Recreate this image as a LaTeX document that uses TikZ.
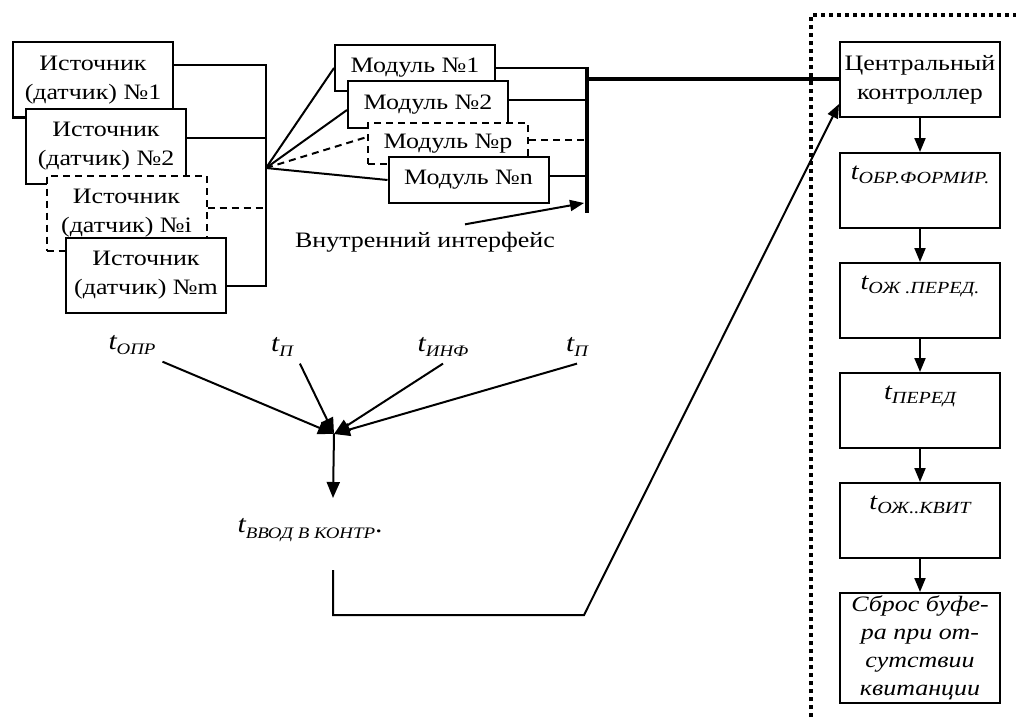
\documentclass[tikz,border=0pt]{standalone}
\usepackage{fontspec}
\setmainfont{Liberation Serif}[FakeStretch=1.18]
\usetikzlibrary{positioning,arrows.meta,calc}

\newcommand{\tlab}[2][8.5]{\textit{t\raisebox{-0.45ex}{\fontsize{#1}{#1}\selectfont #2}}}

\begin{document}
\begin{tikzpicture}[
    x=0.5pt, y=-0.5pt,
    font=\fontsize{11}{14.5}\selectfont,
    line width=1pt,
    box/.style={rectangle, draw, fill=white, minimum width=80pt, inner sep=0pt, align=center},
    src/.style={box, minimum height=37.5pt},
    mod/.style={box, minimum height=23pt},
    tbox/.style={box, text height=9pt, text depth=20.5pt, inner ysep=4pt, font=\fontsize{12}{14.5}\selectfont},
    dashln/.style={dash pattern=on 3.5pt off 2.5pt},
    arr/.style={-{Triangle[length=7pt,width=5.5pt]}},
    bigarr/.style={-{Triangle[length=8pt,width=6.5pt]}},
    lab/.style={inner sep=3pt, font=\fontsize{12.5}{15}\selectfont}
]
    \useasboundingbox (0,0) rectangle (1016,717);

    % Sources
    \node[src] (src1) at (93,80) {Источник\\(датчик) №1};
    \node[src] (src2) at (106,146.5) {Источник\\(датчик) №2};
    \node[src, dashln] (srci) at (126.5,213) {Источник\\(датчик) №i};
    \node[src] (srcm) at (146,275.5) {Источник\\(датчик) №m};

    % Modules
    \node[mod] (mod1) at (415,68) {Модуль №1};
    \node[mod] (mod2) at (428,104.5) {Модуль №2};
    \node[mod, dashln, minimum height=20.5pt] (modp) at (448,143.5) {Модуль №p};
    \node[mod] (modn) at (468.5,180) {Модуль №n};

    % Source bus
    \coordinate (sb1) at (266,65);
    \coordinate (sb2) at (266,138);
    \coordinate (sbi) at (266,208);
    \coordinate (sbm) at (266,286);
    \coordinate (fan) at (266,168);
    \draw (src1.east |- sb1) -- (sb1) -- (sbm) -- (srcm.east |- sbm);
    \draw (src2.east |- sb2) -- (sb2);
    \draw[dashln] (srci.east |- sbi) -- (sbi);

    % Fan to modules
    \draw (fan) -- (mod1.west);
    \draw (fan) -- ([yshift=-2.75pt]mod2.west);
    \draw[dashln] (fan) -- ([yshift=3.25pt]modp.west);
    \draw (fan) -- (modn.west);

    % Internal interface
    \coordinate (ib1) at (587,67);
    \coordinate (ib2) at (587,213);
    \coordinate (ibarr) at (584,203);
    \draw[line width=2pt] (ib1) -- (ib2);
    \draw (mod1.east) -- (mod1.east -| ib1);
    \draw ([yshift=2pt]mod2.east) -- ([yshift=2pt]mod2.east -| ib1);
    \draw[dashln] ([yshift=1.75pt]modp.east) -- ([yshift=1.75pt]modp.east -| ib1);
    \draw ([yshift=2pt]modn.east) -- ([yshift=2pt]modn.east -| ib1);
    \node (iface) at (425,242) {Внутренний интерфейс};
    \draw[arr] ([xshift=20pt]iface.north) -- (ibarr);

    % Controller side
    \draw[line width=1.75pt, dash pattern=on 2pt off 2pt] (811,717) -- (811,15) -- (1016,15);
    \node[src] (ctrl) at (920,79.5) {Центральный\\контроллер};
    \draw[line width=2pt] (ctrl.west -| ib1) -- (ctrl.west);
    \node[tbox, below=17pt of ctrl] (tobr) {\tlab{ОБР.ФОРМИР.}};
    \node[tbox, below=16.5pt of tobr] (tozh) {\tlab{ОЖ .ПЕРЕД.}};
    \node[tbox, below=16.5pt of tozh] (tper) {\tlab{ПЕРЕД}};
    \node[tbox, below=16.5pt of tper] (tkvit) {\tlab{ОЖ..КВИТ}};
    \node[box, minimum height=55pt, below=16.5pt of tkvit, font=\itshape\fontsize{11}{14}\selectfont] (reset)
        {Сброс буфе-\\ра при от-\\сутствии\\квитанции};
    \draw[arr] (ctrl) -- (tobr);
    \draw[arr] (tobr) -- (tozh);
    \draw[arr] (tozh) -- (tper);
    \draw[arr] (tper) -- (tkvit);
    \draw[arr] (tkvit) -- (reset);

    % Delay components
    \node[lab] (topr) at (132,345) {\tlab[8]{ОПР}};
    \node[lab] (tp1) at (282,347) {\tlab[8]{П}};
    \node[lab] (tinf) at (443,347) {\tlab[8]{ИНФ}};
    \node[lab] (tp2) at (577,347) {\tlab[8]{П}};
    \coordinate (conv) at (334,434);
    \coordinate (vend) at (333,498);
    \draw[bigarr] (topr.south east) -- (conv);
    \draw[bigarr] (tp1.south east) -- (conv);
    \draw[bigarr] (tinf.south) -- (conv);
    \draw[bigarr] (tp2.south) -- (conv);
    \draw[bigarr] (conv) -- (vend);
    \node[lab] (tvvod) at (310,530) {\tlab[8]{ВВОД В КОНТР}.};

    % Return to controller
    \coordinate (bk1) at (333,570);
    \coordinate (bk2) at (584,615);
    \draw[arr] (bk1) |- (bk2) -- ([yshift=7pt]ctrl.south west);
\end{tikzpicture}
\end{document}
